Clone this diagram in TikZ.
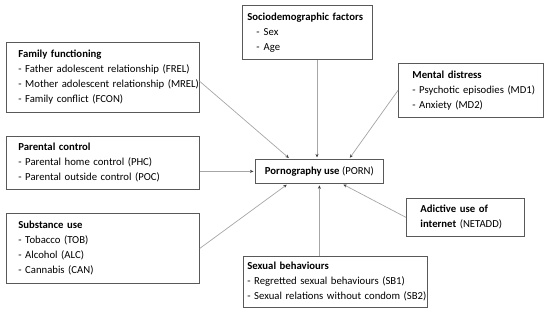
\documentclass[tikz,border=0pt]{standalone}
\usepackage{fontspec}
\setmainfont{Carlito}
\usetikzlibrary{arrows.meta,calc}
\definecolor{boxline}{HTML}{595959}
\definecolor{linkline}{HTML}{A6A6A6}
% left-aligned lines, indented by #1
\newcommand{\boxlines}[2]{\hspace*{#1}\begin{tabular}{@{}l@{}}#2\end{tabular}}
\tikzset{
  factor/.style={draw=boxline, line width=0.8pt, anchor=north west, align=left, inner sep=0pt, font=\fontsize{10.7}{15}\selectfont},
  outcome/.style={draw=boxline, line width=0.8pt, anchor=north west, align=center, inner sep=0pt, font=\fontsize{10.7}{15}\selectfont},
  link/.style={draw=linkline, line width=0.7pt, shorten >=1.5pt, -{Stealth[length=3.5pt,width=3pt,color=black!75]}}
}

\begin{document}
\begin{tikzpicture}[x=1pt, y=-1pt]
\useasboundingbox (0,0) rectangle (550,313);
% outcome
\node[outcome, minimum width=128pt, minimum height=24pt] (porn) at (255,159) {\textbf{Pornography use} (PORN)};
% factors
\node[factor, text width=193pt, minimum height=70pt] (fam) at (6,42)
  {\boxlines{12pt}{\textbf{Family functioning}\\- Father adolescent relationship (FREL)\\- Mother adolescent relationship (MREL)\\- Family conflict (FCON)}};
\node[factor, text width=193pt, minimum height=53pt] (par) at (6,136)
  {\boxlines{12pt}{\textbf{Parental control}\\- Parental home control (PHC)\\- Parental outside control (POC)}};
\node[factor, text width=193pt, minimum height=70pt] (subs) at (6,213)
  {\boxlines{12pt}{\textbf{Substance use}\\- Tobacco (TOB)\\- Alcohol (ALC)\\- Cannabis (CAN)}};
\node[factor, text width=130pt, minimum height=54pt] (socio) at (242,5)
  {\boxlines{5pt}{\textbf{Sociodemographic factors}\\\hspace*{9pt}-\hspace{4pt}Sex\\\hspace*{9pt}-\hspace{4pt}Age}};
\node[factor, text width=145pt, minimum height=54pt] (mental) at (398,63)
  {\boxlines{14pt}{\textbf{Mental distress}\\- Psychotic episodies (MD1)\\- Anxiety (MD2)}};
\node[factor, text width=118pt, minimum height=38pt] (net) at (406,198)
  {\boxlines{14pt}{\textbf{Adictive use of}\\\textbf{internet} (NETADD)}};
\node[factor, text width=184pt, minimum height=51pt] (sex) at (243,256)
  {\boxlines{4pt}{\textbf{Sexual behaviours}\\- Regretted sexual behaviours (SB1)\\- Sexual relations without condom (SB2)}};
% arrow ends on the outcome box
\coordinate (pFam) at ([xshift=35pt]porn.north west);
\coordinate (pSocio) at ([xshift=62pt]porn.north west);
\coordinate (pMental) at ([xshift=94pt]porn.north west);
\coordinate (pSubs) at ([xshift=33pt]porn.south west);
\coordinate (pNet) at ([xshift=87pt]porn.south west);
% arrows
\path[link] ([yshift=-4pt]fam.east) to (pFam);
\path[link] (socio.south -| pSocio) to (pSocio);
\path[link] (mental.west) to (pMental);
\path[link] (par.east |- porn.west) to (porn.west);
\path[link] (subs.east) to (pSubs);
\path[link] (sex.north -| porn.south) to (porn.south);
\path[link] (net.west) to (pNet);
\end{tikzpicture}
\end{document}
